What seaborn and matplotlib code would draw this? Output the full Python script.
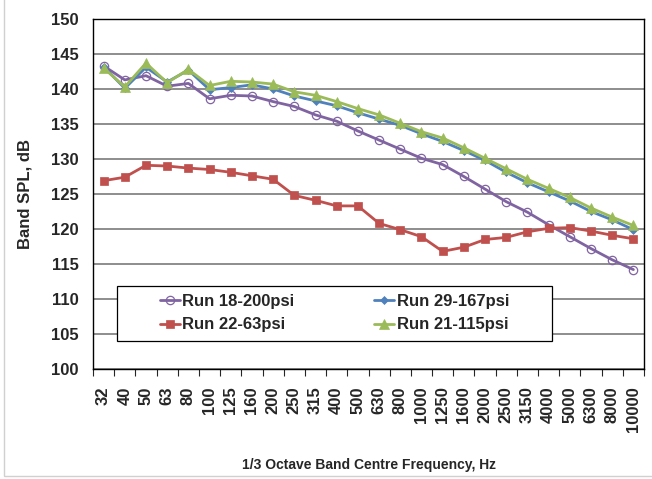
import numpy as np
import pandas as pd
import matplotlib
matplotlib.use("Agg")
import matplotlib.pyplot as plt
import seaborn as sb
from matplotlib.patches import Rectangle

freqs = ["32", "40", "50", "63", "80", "100", "125", "160", "200", "250",
         "315", "400", "500", "630", "800", "1000", "1250", "1600", "2000",
         "2500", "3150", "4000", "5000", "6300", "8000", "10000"]

run18 = [143.3, 141.3, 141.9, 140.4, 140.8, 138.6, 139.1, 139.0, 138.2, 137.5,
         136.3, 135.4, 134.0, 132.7, 131.4, 130.1, 129.2, 127.5, 125.7, 123.9,
         122.4, 120.6, 118.9, 117.2, 115.6, 114.2]
run29 = [143.2, 140.1, 143.1, 141.0, 142.7, 139.9, 140.2, 140.6, 140.0, 139.0,
         138.3, 137.6, 136.6, 135.7, 134.8, 133.6, 132.5, 131.2, 129.8, 128.1,
         126.6, 125.3, 124.0, 122.5, 121.3, 119.9]
run22 = [126.9, 127.4, 129.1, 129.0, 128.7, 128.5, 128.1, 127.6, 127.1, 124.8,
         124.1, 123.3, 123.3, 120.8, 119.9, 118.9, 116.8, 117.4, 118.5, 118.8,
         119.6, 120.1, 120.2, 119.7, 119.1, 118.6]
run21 = [143.0, 140.3, 143.7, 140.9, 142.8, 140.5, 141.1, 141.0, 140.7, 139.6,
         139.1, 138.2, 137.2, 136.3, 135.1, 133.9, 133.0, 131.6, 130.1, 128.6,
         127.1, 125.8, 124.5, 123.0, 121.7, 120.5]

names = ["Run 18-200psi", "Run 29-167psi", "Run 22-63psi", "Run 21-115psi"]
values = [run18, run29, run22, run21]

sb.set_style("white")
plt.rcParams["font.family"] = ["Liberation Sans", "DejaVu Sans"]

fig = plt.figure(figsize=(6.52, 4.79), dpi=100)
ax = fig.add_axes([93 / 652, 110 / 479, 551 / 652, 350 / 479])

x = np.arange(len(freqs))
styles = {
    "Run 18-200psi": dict(color="#8064A2", marker="o", markersize=6,
                          markerfacecolor="none", markeredgecolor="#8064A2",
                          markeredgewidth=0.9),
    "Run 29-167psi": dict(color="#4F81BD", marker="D", markersize=4.2,
                          markeredgecolor="#4F81BD", markeredgewidth=0.5),
    "Run 22-63psi": dict(color="#C0504D", marker="s", markersize=6,
                         markeredgecolor="#C0504D", markeredgewidth=0.5),
    "Run 21-115psi": dict(color="#9BBB59", marker="^", markersize=7,
                          markeredgecolor="#9BBB59", markeredgewidth=0.5),
}

lines = {}
for name, vals in zip(names, values):
    d = pd.DataFrame({"x": x, "y": vals})
    sb.lineplot(data=d, x="x", y="y", ax=ax, linewidth=2, zorder=3,
                **styles[name])
    lines[name] = ax.get_lines()[-1]

ax.set_xlim(-0.5, len(freqs) - 0.5)
ax.set_ylim(100, 150)
ax.set_yticks(np.arange(100, 151, 5))
ax.set_xticks(x)
ax.set_xticklabels(freqs, rotation=90, fontsize=12, fontweight="bold")
ax.set_xticks(np.arange(-0.5, len(freqs), 1), minor=True)
ax.tick_params(axis="x", which="major", length=0, pad=12.5)
ax.tick_params(axis="x", which="minor", length=5, width=0.8, direction="out",
               bottom=True)
ax.tick_params(axis="y", length=0, labelsize=12, pad=10.5)
for t in ax.get_yticklabels():
    t.set_fontweight("bold")

ax.grid(axis="y", color="#7a7a7a", linewidth=1.2)
ax.set_axisbelow(True)
for s in ax.spines.values():
    s.set_color("black")
    s.set_linewidth(1)

ax.set_xlabel("1/3 Octave Band Centre Frequency, Hz", fontsize=10,
              fontweight="bold", labelpad=19)
ax.set_ylabel("Band SPL, dB", fontsize=12, fontweight="bold", labelpad=13)

# legend box
ax.add_patch(Rectangle((0.044, 0.081), 0.7885, 0.157, transform=ax.transAxes,
                       facecolor="white", edgecolor="black", linewidth=0.9,
                       zorder=2.5))
order = ["Run 18-200psi", "Run 22-63psi", "Run 29-167psi", "Run 21-115psi"]
leg = ax.legend([lines[n] for n in order], order, ncol=2, loc="center",
                bbox_to_anchor=(0.4383, 0.1594), frameon=False,
                handlelength=1.2, handletextpad=0.15, columnspacing=4.8,
                labelspacing=0.5, prop={"weight": "bold", "size": 12})

fig.patches.append(Rectangle((4 / 652, 3 / 479), 1.0, 1.0,
                             transform=fig.transFigure, fill=False,
                             edgecolor="#d0d0d0", linewidth=1))

fig.savefig("out.png", dpi=100)
